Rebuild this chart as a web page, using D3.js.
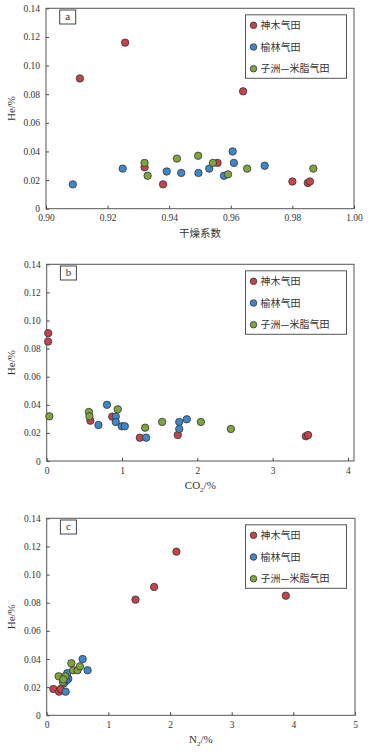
<head>
    <script src="https://d3js.org/d3.v7.min.js"></script>
    <style>
        body { margin: 0; background: #fff; }
        svg { display: block; }
        text { font-family: "Liberation Serif", "Times New Roman", serif; fill: #333; }
        .cjk { font-family: "Noto Sans CJK SC", sans-serif; }
    </style>
</head>
<body>
    <svg></svg>
    <script>
        // field names and colours of the legend
        const fields = ["神木气田", "榆林气田", "子洲—米脂气田"]
        const fieldColors = ["#c5434a", "#3e87cb", "#7ea53f"]

        // panel a : dryness coefficient vs He
        const dryShenmu = [[0.911, 0.091], [0.9257, 0.116], [0.964, 0.082], [0.932, 0.029], [0.938, 0.017],
                           [0.9557, 0.032], [0.980, 0.019], [0.985, 0.018], [0.9857, 0.019]]
        const dryYulin = [[0.9087, 0.017], [0.9249, 0.028], [0.9392, 0.026], [0.9439, 0.025], [0.9495, 0.025],
                          [0.953, 0.028], [0.9578, 0.023], [0.9606, 0.040], [0.961, 0.032], [0.971, 0.030]]
        const dryZizhou = [[0.932, 0.032], [0.933, 0.023], [0.9425, 0.035], [0.9494, 0.037], [0.9542, 0.032],
                           [0.9591, 0.024], [0.9653, 0.028], [0.9868, 0.028]]

        // panel b : CO2 vs He
        const co2Shenmu = [[0.02, 0.091], [0.018, 0.085], [0.58, 0.0287], [0.87, 0.0316], [1.236, 0.0166],
                           [1.74, 0.0185], [3.44, 0.0176], [3.47, 0.0185]]
        const co2Yulin = [[0.80, 0.040], [0.687, 0.0256], [0.917, 0.0316], [0.917, 0.0278], [0.997, 0.0247],
                          [1.037, 0.0247], [1.32, 0.0166], [1.76, 0.0278], [1.76, 0.0228], [1.86, 0.0297]]
        const co2Zizhou = [[0.035, 0.0318], [0.56, 0.0349], [0.567, 0.0318], [0.943, 0.0368], [1.307, 0.0237],
                           [1.533, 0.0278], [2.047, 0.0278], [2.445, 0.0228]]

        // panel c : N2 vs He
        const n2Shenmu = [[2.104, 0.1163], [1.742, 0.0912], [1.44, 0.0822], [3.878, 0.085], [0.108, 0.0187],
                          [0.2, 0.0168], [0.227, 0.0187]]
        const n2Yulin = [[0.583, 0.040], [0.663, 0.032], [0.307, 0.0168], [0.334, 0.030], [0.35, 0.026],
                         [0.318, 0.0246], [0.28, 0.0227]]
        const n2Zizhou = [[0.194, 0.0277], [0.302, 0.0277], [0.264, 0.0237], [0.40, 0.037], [0.43, 0.032],
                          [0.50, 0.032], [0.54, 0.0348], [0.27, 0.0255]]

        const heTicks = [0, 0.02, 0.04, 0.06, 0.08, 0.10, 0.12, 0.14]
        const dryTicks = [0.90, 0.92, 0.94, 0.96, 0.98, 1.00]
        const co2Ticks = [0, 1, 2, 3, 4]
        const n2Ticks = [0, 1, 2, 3, 4, 5]

        const width = 377, height = 752

        const svg = d3.select('svg')
            .attr('width', width)
            .attr('height', height)

        const panels = [
            {tag: 'a', top: 8.3, bottom: 208.7, left: 46, right: 354, xDomain: [0.9, 1.0], xTicks: dryTicks,
             fmt: d3.format('.2f'), xLabel: ['干燥系数'], cjk: true, series: [dryShenmu, dryYulin, dryZizhou]},
            {tag: 'b', top: 264.3, bottom: 461, left: 46.7, right: 354, xDomain: [0, 4.08], xTicks: co2Ticks,
             fmt: d3.format('d'), xLabel: ['CO', '2', '/%'], series: [co2Shenmu, co2Yulin, co2Zizhou]},
            {tag: 'c', top: 518.3, bottom: 715.3, left: 46.7, right: 355, xDomain: [0, 5], xTicks: n2Ticks,
             fmt: d3.format('d'), xLabel: ['N', '2', '/%'], series: [n2Shenmu, n2Yulin, n2Zizhou]}
        ]

        panels.forEach(p => {
            const x = d3.scaleLinear().domain(p.xDomain).range([p.left, p.right])
            const y = d3.scaleLinear().domain([0, 0.14]).range([p.bottom, p.top])
            const g = svg.append('g')

            const xAxis = g.append('g')
                .attr('transform', 'translate(0,' + p.bottom + ')')
                .call(d3.axisBottom(x).tickValues(p.xTicks).tickFormat(p.fmt).tickSizeInner(-3).tickSizeOuter(0).tickPadding(6))
            const yAxis = g.append('g')
                .attr('transform', 'translate(' + p.left + ',0)')
                .call(d3.axisLeft(y).tickValues(heTicks).tickFormat(d => d === 0 ? '0' : d3.format('.2f')(d))
                    .tickSizeInner(-3).tickSizeOuter(0).tickPadding(6))
            g.selectAll('.domain').remove()
            g.selectAll('.tick line').attr('stroke', '#444')
            g.selectAll('.tick text').attr('font-size', 9.5).attr('fill', '#333')
                .style('font-family', '"Liberation Serif", serif')

            // frame
            g.append('rect')
                .attr('x', p.left).attr('y', p.top)
                .attr('width', p.right - p.left).attr('height', p.bottom - p.top)
                .attr('fill', 'none').attr('stroke', '#555').attr('stroke-width', 1)

            // axis titles
            g.append('text')
                .attr('transform', 'translate(15,' + (p.top + p.bottom) / 2 + ')rotate(-90)')
                .attr('text-anchor', 'middle')
                .attr('font-size', 11)
                .text('He/%')

            const xt = g.append('text')
                .attr('x', (p.left + p.right) / 2)
                .attr('y', p.bottom + 28)
                .attr('text-anchor', 'middle')
                .attr('font-size', 11)
            if (p.cjk) {
                xt.attr('class', 'cjk').attr('font-size', 10.5).text(p.xLabel[0])
            } else {
                xt.append('tspan').text(p.xLabel[0])
                xt.append('tspan').attr('font-size', 7).attr('dy', 2.5).text(p.xLabel[1])
                xt.append('tspan').attr('dy', -2.5).text(p.xLabel[2])
            }

            // panel tag
            g.append('rect')
                .attr('x', p.left + 13.7).attr('y', p.top + 1.7)
                .attr('width', 16).attr('height', 14)
                .attr('fill', '#fff').attr('stroke', '#444')
            g.append('text')
                .attr('x', p.left + 21.7).attr('y', p.top + 12)
                .attr('text-anchor', 'middle')
                .attr('font-size', 11)
                .text(p.tag)

            // points
            p.series.forEach((s, i) => {
                g.append('g').selectAll('circle')
                    .data(s)
                    .enter().append('circle')
                    .attr('cx', d => x(d[0]))
                    .attr('cy', d => y(d[1]))
                    .attr('r', 3.7)
                    .attr('fill', fieldColors[i])
                    .attr('stroke', '#333')
                    .attr('stroke-width', 0.8)
            })

            // legend
            const lg = g.append('g').attr('transform', 'translate(245.5,' + (p.top + 6.5) + ')')
            lg.append('rect')
                .attr('width', 101).attr('height', 63.5)
                .attr('fill', '#fff').attr('stroke', '#555').attr('stroke-width', 1)
            fields.forEach((f, i) => {
                lg.append('circle')
                    .attr('cx', 8).attr('cy', 10.5 + i * 21.7)
                    .attr('r', 3.3)
                    .attr('fill', fieldColors[i])
                    .attr('stroke', '#333').attr('stroke-width', 0.8)
                lg.append('text')
                    .attr('class', 'cjk')
                    .attr('x', 15).attr('y', 10.5 + i * 21.7)
                    .attr('dy', '0.36em')
                    .attr('font-size', 10)
                    .text(f)
            })
        })
    </script>
</body>
